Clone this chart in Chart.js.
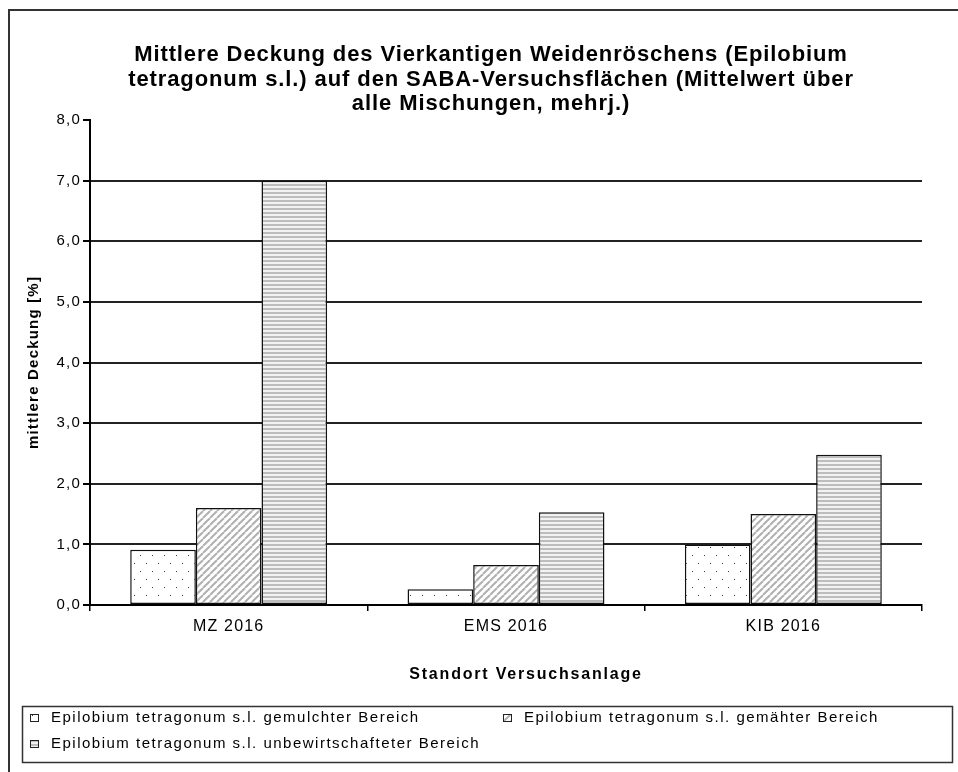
<!DOCTYPE html>
<html lang="de">
<head>
<meta charset="utf-8">
<title>Mittlere Deckung Epilobium tetragonum</title>
<script src="https://cdn.jsdelivr.net/npm/chart.js@4.4.1/dist/chart.umd.min.js"></script>
<style>
  html, body { margin: 0; padding: 0; background: #fff; }
  canvas { display: block; }
</style>
</head>
<body>
<canvas id="graficoDeckung" width="958" height="772"></canvas>
<script>
const standorte = ['MZ 2016', 'EMS 2016', 'KIB 2016'];
const gemulcht = [0.91, 0.26, 1.0];
const gemaeht = [1.6, 0.66, 1.5];
const unbewirtschaftet = [7.0, 1.53, 2.48];

const serienNamen = [
    'Epilobium tetragonum s.l. gemulchter Bereich',
    'Epilobium tetragonum s.l. gemähter Bereich',
    'Epilobium tetragonum s.l. unbewirtschafteter Bereich'
];
const titelZeilen = [
    'Mittlere Deckung des Vierkantigen Weidenröschens (Epilobium',
    'tetragonum s.l.) auf den SABA-Versuchsflächen (Mittelwert über',
    'alle Mischungen, mehrj.)'
];
const yTitel = 'mittlere Deckung [%]';
const xTitel = 'Standort Versuchsanlage';

const SCHRIFT = "'Liberation Sans', Arial, sans-serif";
const ctx = document.getElementById('graficoDeckung');
const g2d = ctx.getContext('2d');

// kleine Kachel-Muster wie in Excel
function muster(breite, hoehe, zeichnen) {
    const c = document.createElement('canvas');
    c.width = breite;
    c.height = hoehe;
    const g = c.getContext('2d');
    g.fillStyle = '#fff';
    g.fillRect(0, 0, breite, hoehe);
    zeichnen(g, breite, hoehe);
    return g2d.createPattern(c, 'repeat');
}

const punkte = muster(12, 16, g => {
    g.fillStyle = '#333';
    g.fillRect(2, 3, 1, 1);
    g.fillRect(8, 11, 1, 1);
});

const schraeg = muster(7, 7, (g, b, h) => {
    g.strokeStyle = '#b0b0b0';
    g.lineWidth = 2;
    for (let k = -1; k <= 1; k++) {
        g.beginPath();
        g.moveTo(k * b, h);
        g.lineTo(k * b + b, 0);
        g.stroke();
    }
});

const streifen = muster(4, 4, g => {
    g.fillStyle = '#bdbdbd';
    g.fillRect(0, 0, 4, 2);
    g.fillStyle = '#f2f2f2';
    g.fillRect(0, 2, 4, 2);
});

const fuellungen = [punkte, schraeg, streifen];

const rahmenPlugin = {
    id: 'rahmen',
    beforeDraw(chart) {
        const c = chart.ctx;
        c.save();
        c.fillStyle = '#fff';
        c.fillRect(0, 0, chart.width, chart.height);
        c.strokeStyle = '#333';
        c.lineWidth = 2;
        c.strokeRect(9, 10, 980, 800);

        c.fillStyle = '#000';
        c.font = 'bold 22px ' + SCHRIFT;
        c.letterSpacing = '0.9px';
        c.textAlign = 'center';
        c.textBaseline = 'middle';
        titelZeilen.forEach((z, i) => c.fillText(z, 491, 55 + i * 24.5));

        c.font = 'bold 16px ' + SCHRIFT;
        c.letterSpacing = '1.8px';
        c.fillText(xTitel, 526, 675);
        c.restore();
        // etwas breitere Schrift wie im Excel-Bild, gilt für die Achsen
        c.letterSpacing = '1.2px';
    },
    afterDraw(chart) {
        const c = chart.ctx;
        c.save();
        c.strokeStyle = '#333';
        c.lineWidth = 1.5;
        c.strokeRect(22.5, 706.5, 930, 56);

        const plaetze = [[30, 718], [503, 718], [30, 744]];
        c.font = '15px ' + SCHRIFT;
        c.letterSpacing = '1.5px';
        c.textBaseline = 'middle';
        c.textAlign = 'left';
        serienNamen.forEach((name, i) => {
            const [x, y] = plaetze[i];
            c.fillStyle = fuellungen[i];
            c.fillRect(x, y - 4, 9, 8);
            c.strokeStyle = '#222';
            c.lineWidth = 1;
            c.strokeRect(x + 0.5, y - 3.5, 8, 7);
            c.fillStyle = '#000';
            c.fillText(name, x + 21, y);
        });
        c.restore();
        c.letterSpacing = '0px';
    }
};

const datensaetze = [gemulcht, gemaeht, unbewirtschaftet].map((werte, i) => ({
    label: serienNamen[i],
    data: werte,
    backgroundColor: fuellungen[i],
    borderColor: '#111',
    borderWidth: 1.5,
    borderSkipped: false,
    categoryPercentage: 0.71,
    barPercentage: 1.0
}));

let grafico = new Chart(ctx, {
    type: 'bar',
    data: {
        labels: standorte,
        datasets: datensaetze
    },
    options: {
        responsive: false,
        animation: false,
        events: [],
        layout: {
            padding: { left: 8, right: 36, top: 120, bottom: 77 }
        },
        plugins: {
            legend: { display: false },
            title: { display: false },
            tooltip: { enabled: false }
        },
        scales: {
            x: {
                grid: {
                    display: true,
                    drawOnChartArea: false,
                    offset: true,
                    color: '#000',
                    lineWidth: 1.5,
                    tickLength: 6
                },
                border: { color: '#000', width: 2 },
                ticks: {
                    color: '#000',
                    padding: 6,
                    font: { family: SCHRIFT, size: 16 }
                },
                afterFit: s => { s.height = 90; }
            },
            y: {
                min: 0,
                max: 8,
                ticks: {
                    stepSize: 1,
                    color: '#000',
                    padding: 2,
                    font: { family: SCHRIFT, size: 15 },
                    callback: v => v.toFixed(1).replace('.', ',')
                },
                grid: {
                    color: c => (c.tick.value === 0 || c.tick.value === 8) ? 'rgba(0,0,0,0)' : '#222',
                    lineWidth: 2,
                    tickColor: '#000',
                    tickLength: 7
                },
                border: { color: '#000', width: 2 },
                title: {
                    display: true,
                    text: yTitel,
                    color: '#000',
                    font: { family: SCHRIFT, size: 15, weight: 'bold' },
                    padding: { top: 17, bottom: 0 }
                },
                afterFit: s => { s.width = 82; }
            }
        }
    },
    plugins: [rahmenPlugin]
});
</script>
</body>
</html>
